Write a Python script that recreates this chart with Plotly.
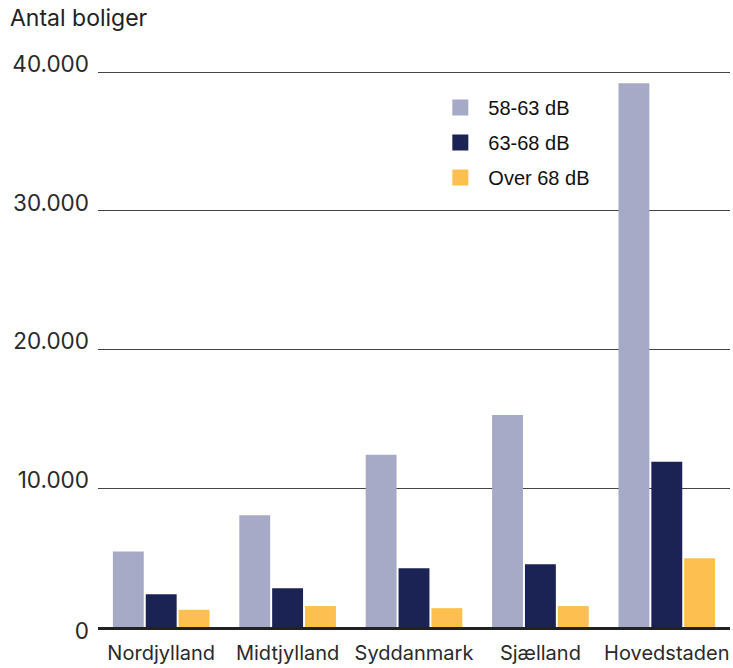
import plotly.graph_objects as go

regions = ["Nordjylland", "Midtjylland", "Syddanmark", "Sjælland", "Hovedstaden"]
series_names = ["58-63 dB", "63-68 dB", "Over 68 dB"]
s_58_63 = [5450, 8050, 12420, 15290, 39200]
s_63_68 = [2370, 2800, 4240, 4520, 11920]
s_over_68 = [1240, 1510, 1360, 1510, 4950]
colors = ["#a6aac7", "#1b2254", "#fdbf4f"]
y_ticks = [10000, 20000, 30000, 40000]
y_tick_labels = ["10.000", "20.000", "30.000", "40.000"]
y_zero_tick = [0]
y_zero_label = ["0"]
y_range = [0, 40300]

fig = go.Figure()
for name, vals, col in zip(series_names, [s_58_63, s_63_68, s_over_68], colors):
    fig.add_trace(go.Bar(x=regions, y=vals, name=name, marker_color=col,
                         marker_line_width=0, showlegend=False))
# legend entries
for i, (name, col) in enumerate(zip(series_names, colors)):
    fig.add_trace(go.Scatter(x=[None], y=[None], mode="markers", name=name,
                             marker=dict(symbol="square", size=17, color=col),
                             legendgroup=f"g{i}", showlegend=True))
fig.add_trace(go.Scatter(x=[None], y=[None], yaxis="y2", showlegend=False, hoverinfo="skip"))

W, H = 733, 668
fig.update_layout(
    width=W, height=H,
    margin=dict(l=98, r=3, t=68, b=38),
    paper_bgcolor="white", plot_bgcolor="white",
    barmode="group", bargap=0.22, bargroupgap=0.06,
    font=dict(family="Inter", color="#2a2a2a"),
    title=dict(text="Antal boliger", x=10/W, xanchor="left", xref="container",
               y=1-18/H, yanchor="middle", yref="container",
               font=dict(size=23, family="Inter", color="#222")),
    legend=dict(x=0.529, y=0.9640, xanchor="left", yanchor="top",
                font=dict(family="Liberation Sans", size=20, color="#111"),
                tracegroupgap=6, itemwidth=46, bgcolor="rgba(0,0,0,0)"),
    showlegend=True,
    yaxis=dict(range=y_range, tickvals=y_ticks, ticktext=y_tick_labels,
               showgrid=True, gridcolor="#444", gridwidth=1, zeroline=False,
               tickfont=dict(size=22.5, family="Inter", color="#2a2a2a"),
               ticks="", ticklabelstandoff=8, ticklabelshift=-8, showline=False),
    yaxis2=dict(overlaying="y", side="left", range=y_range, tickvals=y_zero_tick,
                ticktext=y_zero_label, showgrid=False, zeroline=False, ticks="",
                ticklabelstandoff=8, ticklabelshift=4,
                tickfont=dict(size=22.5, family="Inter", color="#2a2a2a")),
)
fig.update_xaxes(showline=True, linecolor="#222", linewidth=3, ticklabelstandoff=6,
                 tickfont=dict(size=20, family="Inter", color="#2a2a2a"), ticks="")

fig.write_html("out.html", config={"displayModeBar": False},
               post_script="document.body.style.margin='0px';")
